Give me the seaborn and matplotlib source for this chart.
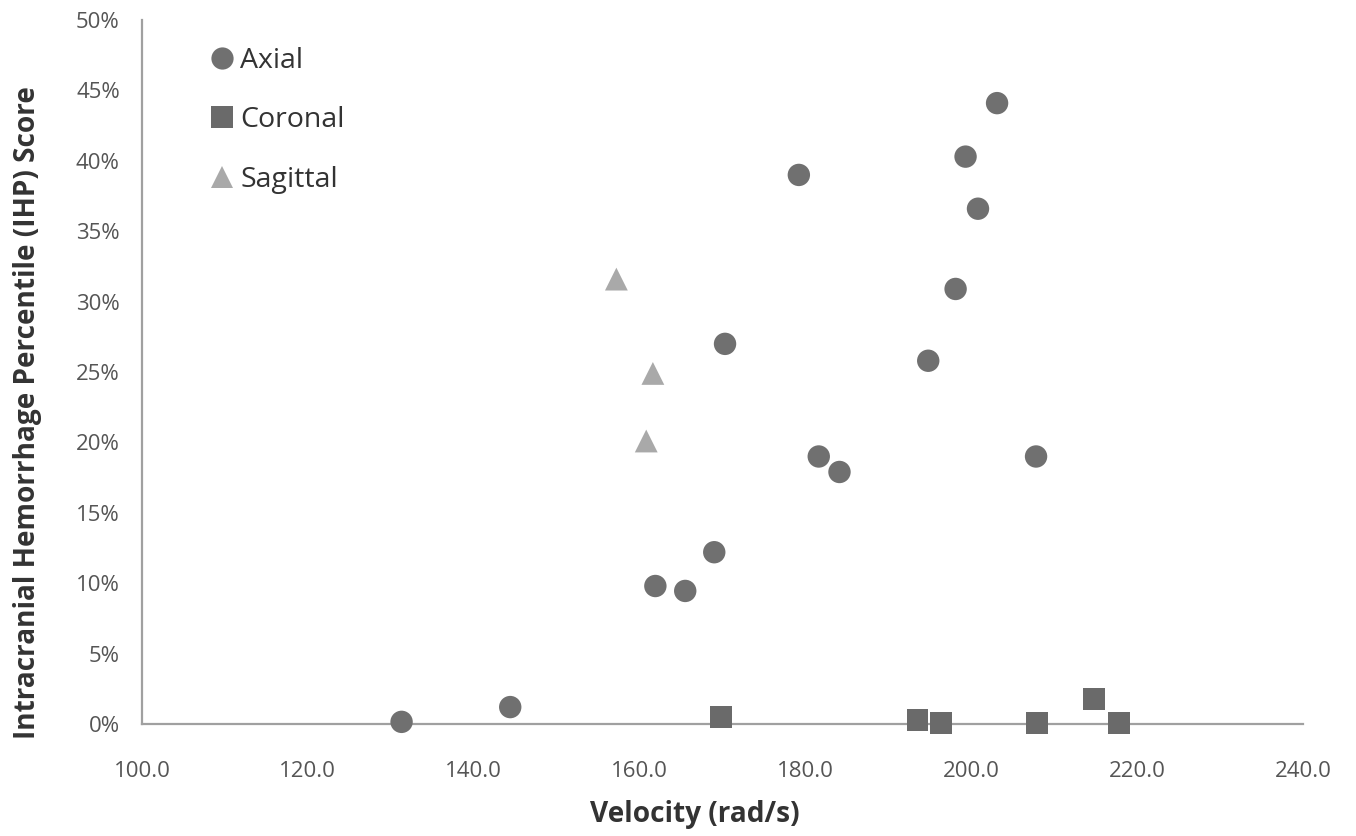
import pandas as pd
import seaborn as sns
import matplotlib.pyplot as plt
from matplotlib.lines import Line2D
from matplotlib.ticker import PercentFormatter, MultipleLocator

# Axial points (velocity rad/s, IHP score %)
axial_vel = [131.3, 144.4, 161.9, 165.5, 169.0, 170.3, 179.2, 181.6, 184.1,
             194.8, 198.1, 199.3, 200.8, 203.1, 207.8]
axial_ihp = [0.15, 1.2, 9.8, 9.45, 12.2, 27.0, 39.0, 19.0, 17.9,
             25.8, 30.9, 40.3, 36.6, 44.1, 19.0]

# Coronal points
coronal_vel = [169.8, 193.5, 196.3, 207.9, 214.8, 217.8]
coronal_ihp = [0.5, 0.3, 0.07, 0.07, 1.8, 0.07]

# Sagittal points
sagittal_vel = [157.2, 161.6, 160.8]
sagittal_ihp = [31.6, 24.9, 20.1]

df = pd.concat([
    pd.DataFrame({'velocity': axial_vel, 'ihp': axial_ihp, 'plane': 'Axial'}),
    pd.DataFrame({'velocity': coronal_vel, 'ihp': coronal_ihp, 'plane': 'Coronal'}),
    pd.DataFrame({'velocity': sagittal_vel, 'ihp': sagittal_ihp, 'plane': 'Sagittal'}),
])

sns.set_style("white")
plt.rcParams['font.family'] = ['Open Sans', 'DejaVu Sans']

fig, ax = plt.subplots(figsize=(13.56, 8.36), dpi=100)
fig.subplots_adjust(left=0.1047, right=0.961, top=0.976, bottom=0.134)

palette = {'Axial': '#707070', 'Coronal': '#6a6a6a', 'Sagittal': '#a9a9a9'}
markers = {'Axial': 'o', 'Coronal': 's', 'Sagittal': '^'}
sizes = {'Axial': 260, 'Coronal': 245, 'Sagittal': 270}

for plane in ['Axial', 'Coronal', 'Sagittal']:
    sub = df[df['plane'] == plane]
    sns.scatterplot(data=sub, x='velocity', y='ihp', ax=ax,
                    color=palette[plane], marker=markers[plane],
                    s=sizes[plane], edgecolor='none', legend=False,
                    zorder=3, clip_on=False)

ax.set_xlim(100, 240)
ax.set_ylim(0, 50)
ax.xaxis.set_major_locator(MultipleLocator(20))
ax.yaxis.set_major_locator(MultipleLocator(5))
ax.xaxis.set_major_formatter(lambda v, p: f'{v:.1f}')
ax.yaxis.set_major_formatter(PercentFormatter(decimals=0))

for side in ['top', 'right']:
    ax.spines[side].set_visible(False)
for side in ['left', 'bottom']:
    ax.spines[side].set_color('#a0a0a0')
    ax.spines[side].set_linewidth(1.6)

ax.tick_params(axis='both', direction='out', length=4, width=1.2,
               color='#a0a0a0', labelsize=16, labelcolor='#555555')
ax.tick_params(axis='x', pad=23)
ax.tick_params(axis='y', pad=12)

ax.set_xlabel('Velocity (rad/s)', fontsize=20.2, fontweight='bold',
              color='#333333')
ax.set_ylabel('Intracranial Hemorrhage Percentile (IHP) Score', fontsize=20.2,
              fontweight='bold', color='#333333')
ax.xaxis.set_label_coords(0.476, -0.108)
ax.yaxis.set_label_coords(-0.086, 0.443)

handles = [Line2D([], [], linestyle='none', marker=markers[p],
                  markersize=16, color=palette[p], markeredgewidth=0, label=p)
           for p in ['Axial', 'Coronal', 'Sagittal']]
ax.legend(handles=handles, loc='upper left', bbox_to_anchor=(0.037, 0.998),
          frameon=False, fontsize=20.5, handlelength=0.8,
          handletextpad=0.25, labelspacing=1.1, labelcolor='#333333')

fig.savefig('out.png', dpi=100)
